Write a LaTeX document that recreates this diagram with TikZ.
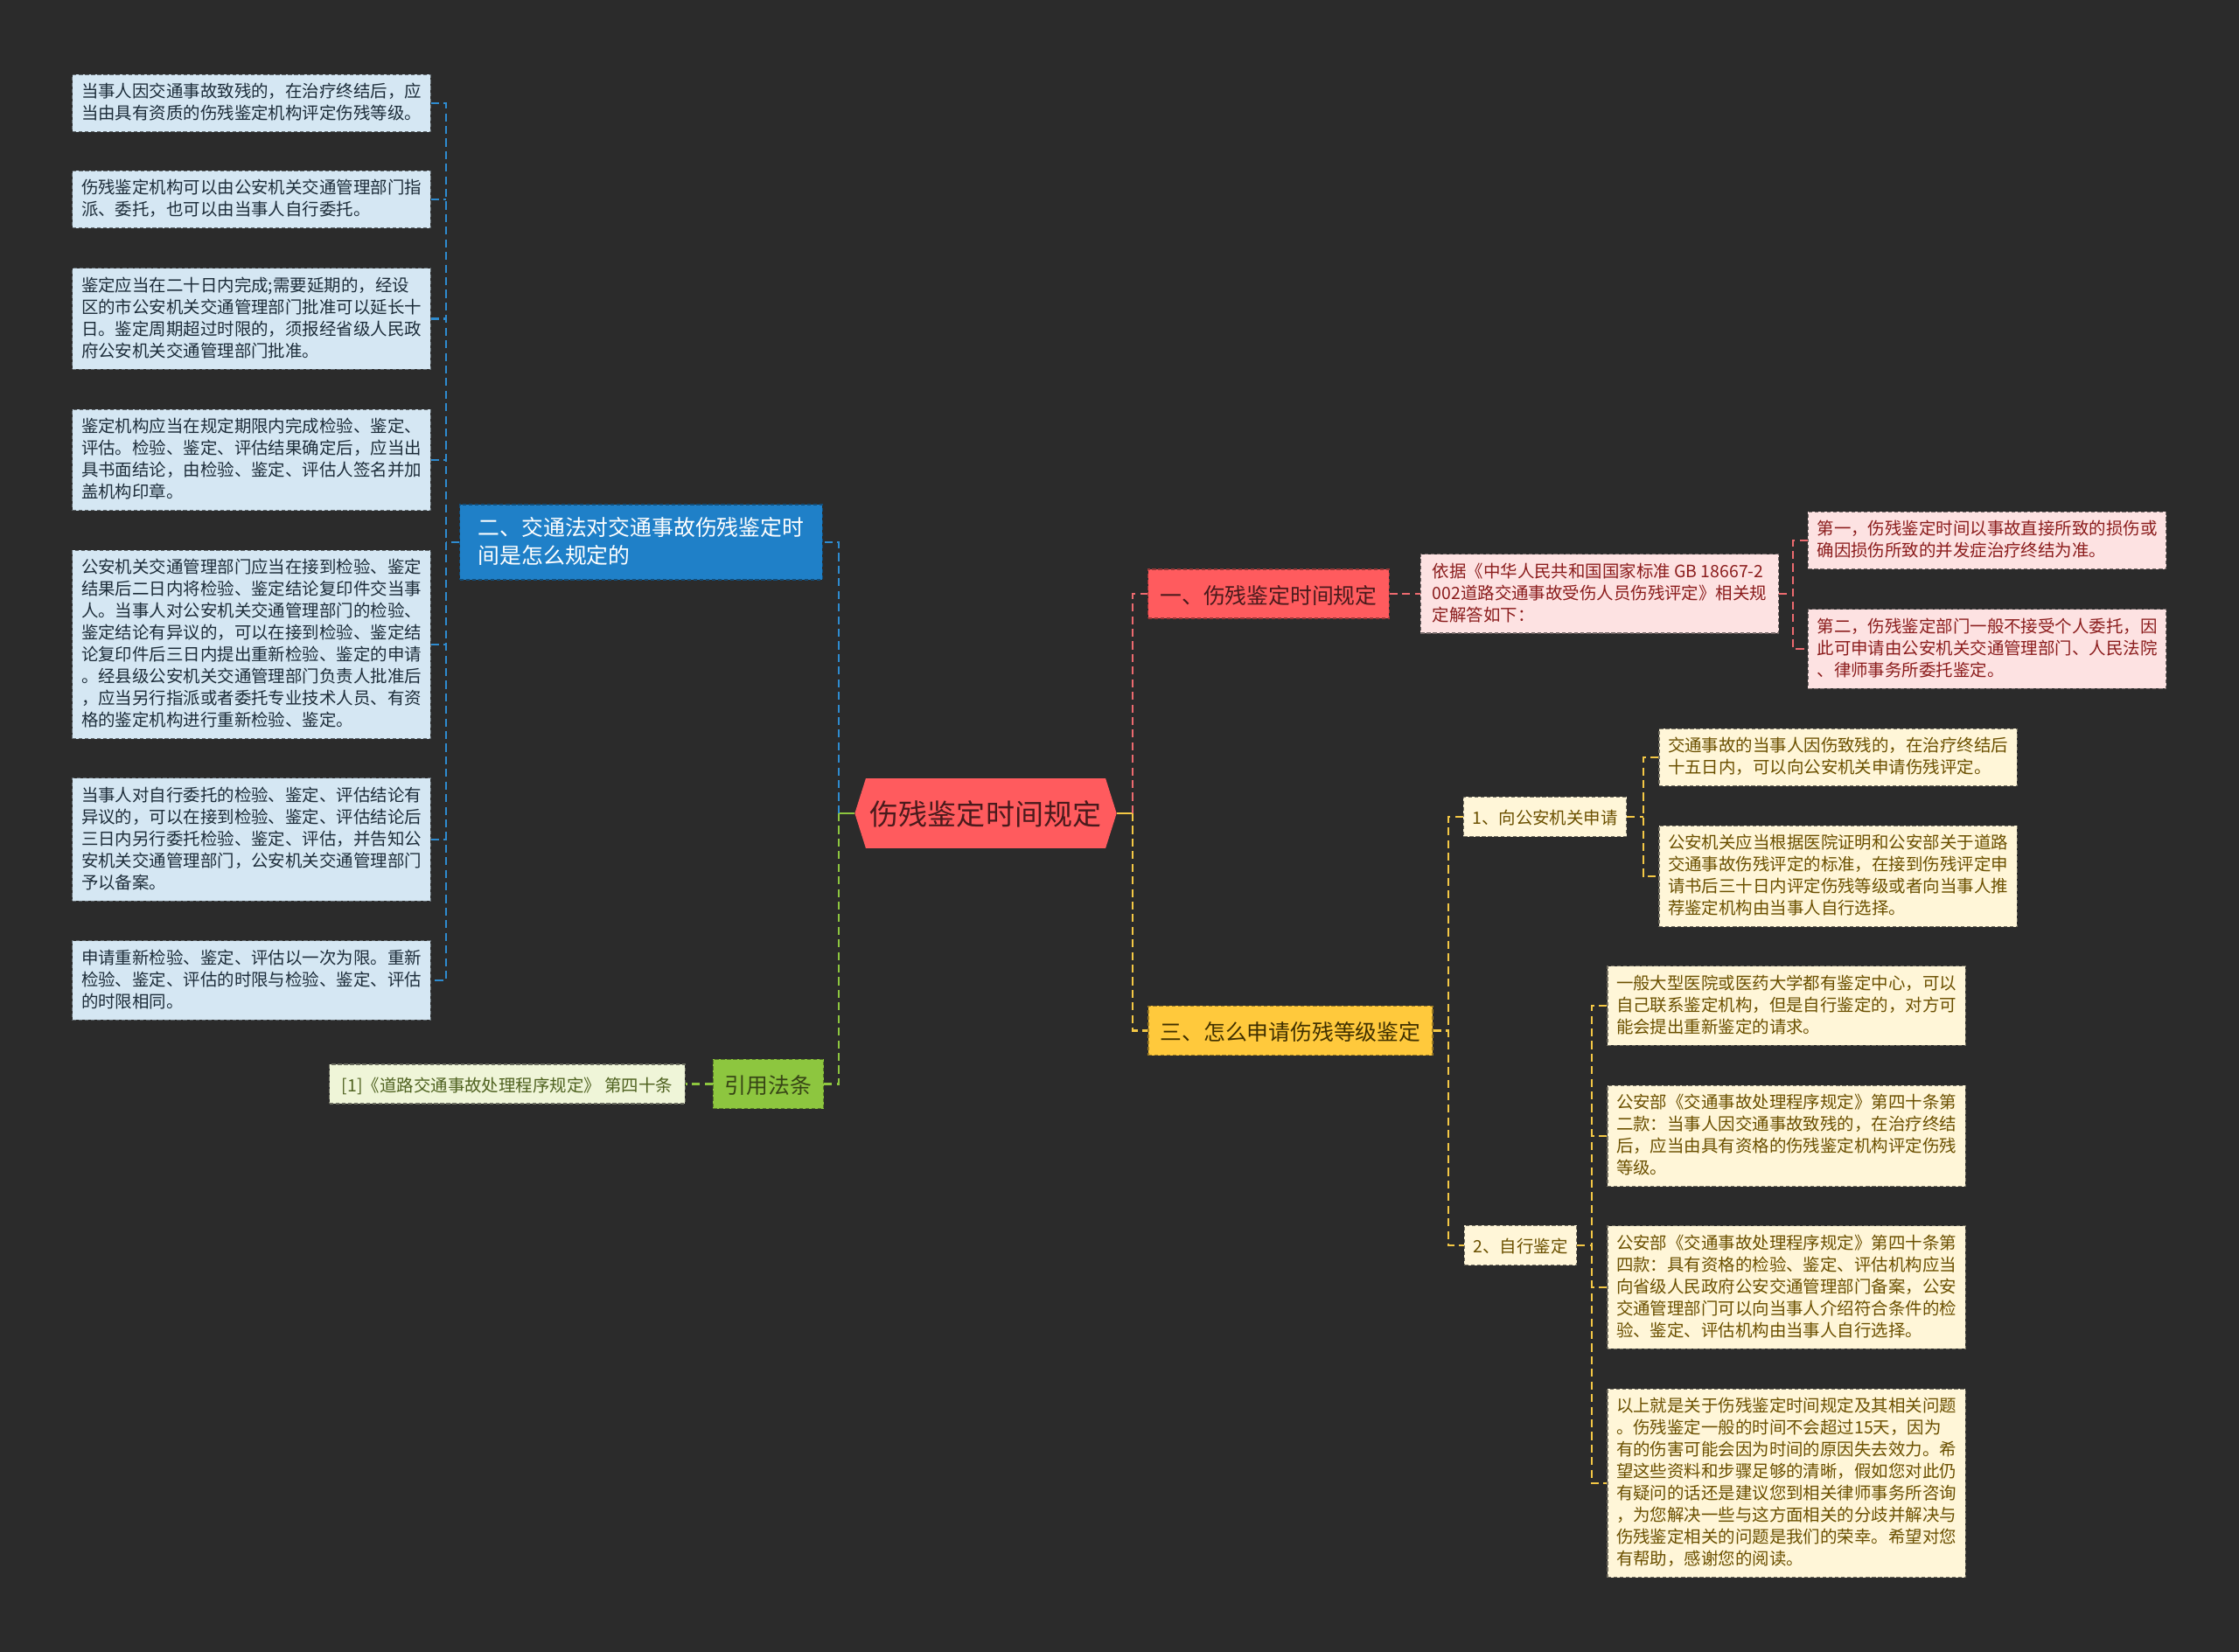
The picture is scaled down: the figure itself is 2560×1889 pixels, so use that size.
\documentclass[tikz,border=0pt]{standalone}
\usepackage{fontspec}
\setmainfont{Noto Sans CJK SC}
\usetikzlibrary{shapes.symbols}
\definecolor{MAPbg}{HTML}{2B2B2B}
\definecolor{MAPblue}{HTML}{1F80C8}
\definecolor{MAPblueline}{HTML}{2E8BCF}
\definecolor{MAPbluebox}{HTML}{D5E7F3}
\definecolor{MAPbluetext}{HTML}{1D2D3A}
\definecolor{MAPred}{HTML}{FF5B5E}
\definecolor{MAPredline}{HTML}{EC6A6F}
\definecolor{MAPredbox}{HTML}{FDE2E2}
\definecolor{MAPredtext}{HTML}{8B1D1D}
\definecolor{MAProottext}{HTML}{4A1A1C}
\definecolor{MAPyellow}{HTML}{FFC93C}
\definecolor{MAPyellowline}{HTML}{F4C845}
\definecolor{MAPyellowbox}{HTML}{FFF6D8}
\definecolor{MAPyellowtext}{HTML}{6B5000}
\definecolor{MAPgreen}{HTML}{8DC63F}
\definecolor{MAPgreenbox}{HTML}{EFF5D8}
\definecolor{MAPgreentext}{HTML}{4F6220}
\newcommand\mapstrut{\rule[-0.15\baselineskip]{0pt}{\baselineskip}}

\begin{document}
\begin{tikzpicture}[x=0.01cm, y=-0.01cm,
   framed/.style={draw=#1, dashed, dash pattern=on 1.2pt off 0.8pt, line width=0.35pt},
   leaf/.style={framed=#1, align=left, minimum width=4.09cm, inner xsep=0.1cm, inner ysep=0.1cm,
      font=\fontsize{5.53pt}{7.11pt}\selectfont, execute at begin node=\mapstrut, execute at end node=\mapstrut},
   blueleaf/.style={leaf=MAPbluebox!45!black, fill=MAPbluebox, text=MAPbluetext},
   redleaf/.style={leaf=MAPredbox!45!black, fill=MAPredbox, text=MAPredtext},
   yellowleaf/.style={leaf=MAPyellowbox!45!black, fill=MAPyellowbox, text=MAPyellowtext},
   subtopic/.style={yellowleaf, minimum width=0pt},
   topic/.style={framed=#1!60!black, fill=#1, align=left, inner xsep=0.135cm, inner ysep=0.12cm,
      font=\fontsize{7.06pt}{9.1pt}\selectfont, execute at begin node=\mapstrut, execute at end node=\mapstrut},
   link/.style={line width=0.72pt, dash pattern=on 2.6pt off 1.5pt},
   blueline/.style={link, draw=MAPblueline},
   redline/.style={link, draw=MAPredline},
   yellowline/.style={link, draw=MAPyellowline},
   greenline/.style={link, draw=MAPgreen}]
   % Background
   \fill[MAPbg] (0,0) rectangle (2560,1889);
   \useasboundingbox (0,0) rectangle (2560,1889);

   % Centre
   \node[shape=signal, signal to=west and east, signal pointer angle=145, fill=MAPred, text=MAProottext,
      inner xsep=0.05cm, inner ysep=0.2cm, font=\fontsize{9.39pt}{11.3pt}\selectfont,
      execute at begin node=\mapstrut] (root) at (1127,930) {伤残鉴定时间规定};

   % Topics
   \node[topic=MAPred, text=MAProottext] (one) at (1450.5,679) {一、伤残鉴定时间规定};
   \node[topic=MAPblue, text=white, inner xsep=0.21cm, inner ysep=0.14cm] (two) at (733,620) {二、交通法对交通事故伤残鉴定时\\间是怎么规定的};
   \node[topic=MAPyellow, text=MAPyellowtext!60!black] (three) at (1475.5,1178.5) {三、怎么申请伤残等级鉴定};
   \node[topic=MAPgreen, text=MAPgreentext!70!black] (cite) at (878.5,1239.5) {引用法条};

   % Left branch
   \node[blueleaf] (b1) at (287.5,118) {当事人因交通事故致残的，在治疗终结后，应\\当由具有资质的伤残鉴定机构评定伤残等级。};
   \node[blueleaf] (b2) at (287.5,228) {伤残鉴定机构可以由公安机关交通管理部门指\\派、委托，也可以由当事人自行委托。};
   \node[blueleaf] (b3) at (287.5,364.5) {鉴定应当在二十日内完成;需要延期的，经设\\区的市公安机关交通管理部门批准可以延长十\\日。鉴定周期超过时限的，须报经省级人民政\\府公安机关交通管理部门批准。};
   \node[blueleaf] (b4) at (287.5,526) {鉴定机构应当在规定期限内完成检验、鉴定、\\评估。检验、鉴定、评估结果确定后，应当出\\具书面结论，由检验、鉴定、评估人签名并加\\盖机构印章。};
   \node[blueleaf] (b5) at (287.5,737) {公安机关交通管理部门应当在接到检验、鉴定\\结果后二日内将检验、鉴定结论复印件交当事\\人。当事人对公安机关交通管理部门的检验、\\鉴定结论有异议的，可以在接到检验、鉴定结\\论复印件后三日内提出重新检验、鉴定的申请\\。经县级公安机关交通管理部门负责人批准后\\，应当另行指派或者委托专业技术人员、有资\\格的鉴定机构进行重新检验、鉴定。};
   \node[blueleaf] (b6) at (287.5,960) {当事人对自行委托的检验、鉴定、评估结论有\\异议的，可以在接到检验、鉴定、评估结论后\\三日内另行委托检验、鉴定、评估，并告知公\\安机关交通管理部门，公安机关交通管理部门\\予以备案。};
   \node[blueleaf] (b7) at (287.5,1121) {申请重新检验、鉴定、评估以一次为限。重新\\检验、鉴定、评估的时限与检验、鉴定、评估\\的时限相同。};
   \node[leaf=MAPgreenbox!45!black, fill=MAPgreenbox, text=MAPgreentext, minimum width=0pt, inner xsep=0.14cm] (law) at (580,1239.5) {[1]《道路交通事故处理程序规定》 第四十条};

   % Right branch, red
   \node[redleaf] (basis) at (1829,679) {依据《中华人民共和国国家标准 GB 18667-2\\002道路交通事故受伤人员伤残评定》相关规\\定解答如下：};
   \node[redleaf] (p1) at (2272,618) {第一，伤残鉴定时间以事故直接所致的损伤或\\确因损伤所致的并发症治疗终结为准。};
   \node[redleaf] (p2) at (2272,742) {第二，伤残鉴定部门一般不接受个人委托，因\\此可申请由公安机关交通管理部门、人民法院\\、律师事务所委托鉴定。};

   % Right branch, yellow
   \node[subtopic] (s1) at (1766.5,934) {1、向公安机关申请};
   \node[subtopic] (s2) at (1738.5,1424) {2、自行鉴定};
   \node[yellowleaf] (y1) at (2101.5,866) {交通事故的当事人因伤致残的，在治疗终结后\\十五日内，可以向公安机关申请伤残评定。};
   \node[yellowleaf] (y2) at (2101.5,1002) {公安机关应当根据医院证明和公安部关于道路\\交通事故伤残评定的标准，在接到伤残评定申\\请书后三十日内评定伤残等级或者向当事人推\\荐鉴定机构由当事人自行选择。};
   \node[yellowleaf] (y3) at (2042.5,1150) {一般大型医院或医药大学都有鉴定中心，可以\\自己联系鉴定机构，但是自行鉴定的，对方可\\能会提出重新鉴定的请求。};
   \node[yellowleaf] (y4) at (2042.5,1299) {公安部《交通事故处理程序规定》第四十条第\\二款：当事人因交通事故致残的，在治疗终结\\后，应当由具有资格的伤残鉴定机构评定伤残\\等级。};
   \node[yellowleaf] (y5) at (2042.5,1472) {公安部《交通事故处理程序规定》第四十条第\\四款：具有资格的检验、鉴定、评估机构应当\\向省级人民政府公安交通管理部门备案，公安\\交通管理部门可以向当事人介绍符合条件的检\\验、鉴定、评估机构由当事人自行选择。};
   \node[yellowleaf] (y6) at (2042.5,1696) {以上就是关于伤残鉴定时间规定及其相关问题\\。伤残鉴定一般的时间不会超过15天，因为\\有的伤害可能会因为时间的原因失去效力。希\\望这些资料和步骤足够的清晰，假如您对此仍\\有疑问的话还是建议您到相关律师事务所咨询\\，为您解决一些与这方面相关的分歧并解决与\\伤残鉴定相关的问题是我们的荣幸。希望对您\\有帮助，感谢您的阅读。};

   % Bus points
   \coordinate (rbus) at (1295,930);
   \coordinate (lbus) at (959,930);
   \coordinate (bbus) at (510,620);
   \coordinate (pbus) at (2050,679);
   \coordinate (tbus) at (1656,1178.5);
   \coordinate (s1bus) at (1879,934);
   \coordinate (s2bus) at (1820,1424);

   % Centre to topics
   \draw[yellowline, solid] (root.east) -- (rbus);
   \draw[redline] (rbus) |- (one.west);
   \draw[yellowline] (rbus) |- (three.west);
   \draw[greenline, solid] (root.west) -- (lbus);
   \draw[blueline] (lbus) |- (two.east);
   \draw[greenline] (lbus) |- (cite.east);

   % Left connectors
   \draw[blueline] (two.west) -- (bbus);
   \draw[blueline] (b1.east) -- (b1.east -| bbus) -- (b7.east -| bbus) -- (b7.east);
   \foreach \b in {b2,b3,b4,b5,b6}
      \draw[blueline] (\b.east) -- (\b.east -| bbus);
   \draw[greenline] (cite.west) -- (law.east);

   % Right connectors
   \draw[redline] (one.east) -- (basis.west);
   \draw[redline] (basis.east) -- (pbus);
   \draw[redline] (p1.west) -- (p1.west -| pbus) -- (p2.west -| pbus) -- (p2.west);
   \draw[yellowline] (three.east) -- (tbus);
   \draw[yellowline] (s1.west) -- (s1.west -| tbus) -- (s2.west -| tbus) -- (s2.west);
   \draw[yellowline] (s1.east) -- (s1bus);
   \draw[yellowline] (y1.west) -- (y1.west -| s1bus) -- (y2.west -| s1bus) -- (y2.west);
   \draw[yellowline] (s2.east) -- (s2bus);
   \draw[yellowline] (y3.west) -- (y3.west -| s2bus) -- (y6.west -| s2bus) -- (y6.west);
   \foreach \y in {y4,y5}
      \draw[yellowline] (\y.west) -- (\y.west -| s2bus);
\end{tikzpicture}
\end{document}
